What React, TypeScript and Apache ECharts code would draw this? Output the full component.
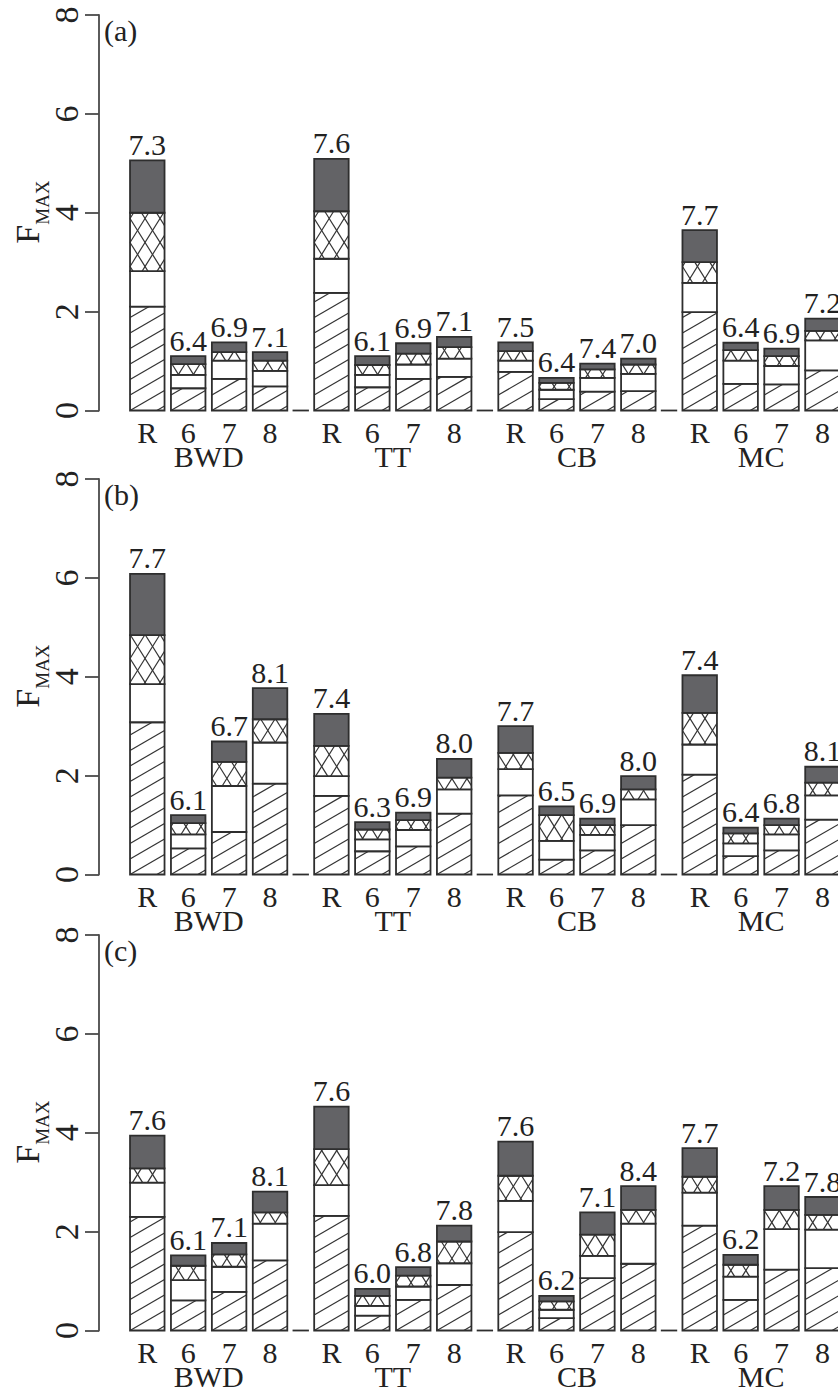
import React, { useEffect, useRef } from "react";
import * as echarts from "echarts";

// Sites and treatments (R = reference, 6/7/8 = target pH)
const GROUPS = ["BWD", "TT", "CB", "MC"];
const TREATMENTS = ["R", "6", "7", "8"];
const PANEL_TAGS = ["(a)", "(b)", "(c)"];

// F_MAX components per bar, ordered BWD R,6,7,8 | TT R,6,7,8 | CB R,6,7,8 | MC R,6,7,8
// stacked bottom to top: hatched, open, cross-hatched, solid
const A_HATCHED = [2.10, 0.45, 0.64, 0.49, 2.38, 0.47, 0.64, 0.68, 0.78, 0.23, 0.38, 0.39, 1.99, 0.54, 0.53, 0.81];
const A_OPEN = [0.72, 0.27, 0.37, 0.31, 0.69, 0.25, 0.29, 0.37, 0.23, 0.19, 0.28, 0.35, 0.59, 0.47, 0.37, 0.61];
const A_CROSSED = [1.18, 0.22, 0.17, 0.21, 0.96, 0.20, 0.22, 0.23, 0.19, 0.14, 0.17, 0.19, 0.42, 0.21, 0.20, 0.19];
const A_SOLID = [1.06, 0.16, 0.20, 0.17, 1.06, 0.18, 0.21, 0.21, 0.18, 0.10, 0.12, 0.12, 0.65, 0.15, 0.15, 0.25];
const A_PH = ["7.3", "6.4", "6.9", "7.1", "7.6", "6.1", "6.9", "7.1", "7.5", "6.4", "7.4", "7.0", "7.7", "6.4", "6.9", "7.2"];

const B_HATCHED = [3.08, 0.53, 0.86, 1.84, 1.59, 0.47, 0.57, 1.23, 1.60, 0.30, 0.49, 1.00, 2.02, 0.37, 0.49, 1.11];
const B_OPEN = [0.77, 0.28, 0.93, 0.83, 0.40, 0.24, 0.33, 0.49, 0.53, 0.38, 0.31, 0.52, 0.61, 0.26, 0.32, 0.49];
const B_CROSSED = [0.99, 0.23, 0.49, 0.47, 0.61, 0.20, 0.20, 0.24, 0.33, 0.52, 0.20, 0.20, 0.64, 0.20, 0.19, 0.26];
const B_SOLID = [1.24, 0.16, 0.41, 0.63, 0.65, 0.15, 0.15, 0.38, 0.54, 0.18, 0.13, 0.27, 0.76, 0.12, 0.13, 0.32];
const B_PH = ["7.7", "6.1", "6.7", "8.1", "7.4", "6.3", "6.9", "8.0", "7.7", "6.5", "6.9", "8.0", "7.4", "6.4", "6.8", "8.1"];

const C_HATCHED = [2.30, 0.61, 0.78, 1.42, 2.32, 0.30, 0.62, 0.92, 1.99, 0.25, 1.06, 1.35, 2.12, 0.62, 1.23, 1.26];
const C_OPEN = [0.69, 0.41, 0.51, 0.74, 0.62, 0.20, 0.27, 0.44, 0.63, 0.17, 0.45, 0.81, 0.67, 0.47, 0.82, 0.78];
const C_CROSSED = [0.29, 0.29, 0.25, 0.23, 0.73, 0.20, 0.22, 0.44, 0.51, 0.17, 0.43, 0.28, 0.32, 0.24, 0.39, 0.30];
const C_SOLID = [0.66, 0.21, 0.23, 0.42, 0.86, 0.14, 0.17, 0.32, 0.69, 0.11, 0.45, 0.48, 0.58, 0.20, 0.48, 0.36];
const C_PH = ["7.6", "6.1", "7.1", "8.1", "7.6", "6.0", "6.8", "7.8", "7.6", "6.2", "7.1", "8.4", "7.7", "6.2", "7.2", "7.8"];

const Y_MIN = 0;
const Y_MAX = 8;
const Y_STEP = 2;

const PANELS = [
  { tag: PANEL_TAGS[0], hatched: A_HATCHED, open: A_OPEN, crossed: A_CROSSED, solid: A_SOLID, ph: A_PH },
  { tag: PANEL_TAGS[1], hatched: B_HATCHED, open: B_OPEN, crossed: B_CROSSED, solid: B_SOLID, ph: B_PH },
  { tag: PANEL_TAGS[2], hatched: C_HATCHED, open: C_OPEN, crossed: C_CROSSED, solid: C_SOLID, ph: C_PH },
];

// ---- layout ----
const FONT = '"Liberation Serif", "Times New Roman", serif';
const INK = "#222";
const EDGE = "#2e2e2e";
const SOLID_FILL = "#636366";
const LINE_FILL = "#333";
const CHART_W = 900;
const CHART_H = 1392;
const GRID_LEFT = 99;
const GRID_TOPS = [15, 479, 935];
const GRID_H = 395.5;
const PX_PER_SLOT = 40.92;
const X_MIN = -1.18;
const X_MAX = 17.5;
const GRID_W = (X_MAX - X_MIN) * PX_PER_SLOT;
const GROUP_STRIDE = 4.5; // four bars plus a half-slot gap
const BAR_W = 0.843;
const SEP_W = 0.4;

const barPos = (i: number) => Math.floor(i / 4) * GROUP_STRIDE + (i % 4);
const BAR_POS = GROUPS.flatMap((_, g) => TREATMENTS.map((__, t) => barPos(g * 4 + t)));
const BAR_NAMES = GROUPS.flatMap(() => TREATMENTS);
const GROUP_CENTERS = GROUPS.map((_, g) => g * GROUP_STRIDE + 1.5);
const SEP_POS = GROUPS.slice(1).map((_, g) => g * GROUP_STRIDE + 3.75);

const findLabel = (v: number, positions: number[], names: string[]) => {
  const k = positions.findIndex((p) => Math.abs(p - v) < 1e-6);
  return k >= 0 ? names[k] : "";
};

// hatch lines clipped to a rectangle; dir 1 = "/", -1 = "\"
function hatch(
  left: number, right: number, yT: number, yB: number, y0: number,
  slope: number, spacing: number, dir: number, phase: number
) {
  const out: any[] = [];
  const w = right - left;
  if (yB - yT < 0.8) return out;
  const style = { stroke: LINE_FILL, lineWidth: 1.2 };
  const kLo = Math.floor((y0 - yB) / spacing) - 1;
  const kHi = Math.ceil((y0 - yT + slope * w) / spacing) + 1;
  for (let k = kLo; k <= kHi; k++) {
    const C = y0 + phase - k * spacing;
    let u0: number;
    let u1: number;
    if (dir > 0) {
      // y = C - slope*u
      u0 = Math.max(0, (C - yB) / slope);
      u1 = Math.min(w, (C - yT) / slope);
    } else {
      // y = C + slope*u
      u0 = Math.max(0, (yT - C) / slope);
      u1 = Math.min(w, (yB - C) / slope);
    }
    if (u1 - u0 > 0.5) {
      const ya = dir > 0 ? C - slope * u0 : C + slope * u0;
      const yb = dir > 0 ? C - slope * u1 : C + slope * u1;
      out.push({ type: "line", shape: { x1: left + u0, y1: ya, x2: left + u1, y2: yb }, style });
    }
  }
  return out;
}

const HATCH_SLOPE = Math.tan((30 * Math.PI) / 180);
const HATCH_SPACING = 15.5;
const CROSS_SLOPE = Math.tan((58 * Math.PI) / 180);
const CROSS_SPACING = 15 * CROSS_SLOPE;

function makeBarRenderer(ph: string[]) {
  return (params: any, api: any) => {
    const i = params.dataIndex;
    const pos = api.value(0);
    const segs = [api.value(1), api.value(2), api.value(3), api.value(4)];
    const left = api.coord([pos - BAR_W / 2, 0])[0];
    const right = api.coord([pos + BAR_W / 2, 0])[0];
    const y0 = api.coord([pos, 0])[1];
    const children: any[] = [];
    let acc = 0;
    segs.forEach((v: number, s: number) => {
      const yB = api.coord([pos, acc])[1];
      acc += v;
      const yT = api.coord([pos, acc])[1];
      const shape = { x: left, y: yT, width: right - left, height: yB - yT };
      children.push({ type: "rect", shape, style: { fill: s === 3 ? SOLID_FILL : "#fff" } });
      if (s === 0) children.push(...hatch(left, right, yT, yB, y0, HATCH_SLOPE, HATCH_SPACING, 1, 0));
      if (s === 2) {
        children.push(...hatch(left, right, yT, yB, y0, CROSS_SLOPE, CROSS_SPACING, 1, 0));
        children.push(...hatch(left, right, yT, yB, y0, CROSS_SLOPE, CROSS_SPACING, -1, 0));
      }
      children.push({ type: "rect", shape, style: { fill: "none", stroke: EDGE, lineWidth: 1.8 } });
    });
    const yTop = api.coord([pos, acc])[1];
    children.push({
      type: "text",
      x: (left + right) / 2,
      y: yTop - 1,
      style: { text: ph[i], font: `30px ${FONT}`, fill: INK, align: "center", verticalAlign: "bottom" },
    });
    return { type: "group", children };
  };
}

const renderSeparator = (_params: any, api: any) => {
  const pos = api.value(0);
  const a = api.coord([pos - SEP_W / 2, 0]);
  const b = api.coord([pos + SEP_W / 2, 0]);
  return { type: "line", shape: { x1: a[0], y1: a[1], x2: b[0], y2: b[1] }, style: { stroke: EDGE, lineWidth: 1.8 } };
};

function buildOption() {
  const grid: any[] = [];
  const xAxis: any[] = [];
  const yAxis: any[] = [];
  const series: any[] = [];
  const graphic: any[] = [];

  PANELS.forEach((p, k) => {
    grid.push({
      left: GRID_LEFT, top: GRID_TOPS[k], width: GRID_W, height: GRID_H,
      containLabel: false, outerBoundsMode: "none",
    });
    const xBase = {
      gridIndex: k, type: "value", position: "bottom", min: X_MIN, max: X_MAX,
      splitLine: { show: false }, axisLine: { show: false, onZero: false }, axisTick: { show: false },
    };
    xAxis.push({
      ...xBase,
      axisLabel: {
        customValues: BAR_POS, margin: 11, fontSize: 30, lineHeight: 22, fontFamily: FONT, color: INK,
        formatter: (v: number) => findLabel(v, BAR_POS, BAR_NAMES),
      },
    });
    xAxis.push({
      ...xBase,
      axisLabel: {
        customValues: GROUP_CENTERS, margin: 35, fontSize: 30, lineHeight: 22, fontFamily: FONT, color: INK,
        formatter: (v: number) => findLabel(v, GROUP_CENTERS, GROUPS),
      },
    });
    yAxis.push({
      gridIndex: k, type: "value", position: "left", min: Y_MIN, max: Y_MAX, interval: Y_STEP,
      splitLine: { show: false },
      axisLine: { show: true, onZero: false, lineStyle: { color: "#4a4a4a", width: 1.8 } },
      axisTick: { show: true, length: 14, lineStyle: { color: "#4a4a4a", width: 1.8 } },
      axisLabel: { rotate: 90, margin: 16, fontSize: 34, fontFamily: FONT, color: INK },
    });
    series.push({
      type: "custom", xAxisIndex: k * 2, yAxisIndex: k, clip: false,
      renderItem: makeBarRenderer(p.ph),
      data: p.hatched.map((h, i) => [BAR_POS[i], h, p.open[i], p.crossed[i], p.solid[i]]),
    });
    series.push({
      type: "custom", xAxisIndex: k * 2, yAxisIndex: k, clip: false,
      renderItem: renderSeparator,
      data: SEP_POS.map((s) => [s, 0]),
    });

    const top = GRID_TOPS[k];
    const mid = top + GRID_H / 2;
    graphic.push({
      type: "text", left: 104, top: top,
      style: { text: p.tag, font: `30px ${FONT}`, fill: INK },
    });
    graphic.push({
      type: "text", x: 44, y: mid + 31, rotation: Math.PI / 2,
      style: { text: "F", font: `34px ${FONT}`, fill: INK, align: "left", verticalAlign: "bottom" },
    });
    graphic.push({
      type: "text", x: 52, y: mid + 12, rotation: Math.PI / 2,
      style: { text: "MAX", font: `19px ${FONT}`, fill: INK, align: "left", verticalAlign: "bottom" },
    });
  });

  return { animation: false, backgroundColor: "#fff", grid, xAxis, yAxis, series, graphic };
}

export default function App() {
  const ref = useRef<HTMLDivElement>(null);
  useEffect(() => {
    if (!ref.current) return;
    const chart = echarts.init(ref.current, undefined, { renderer: "svg" });
    chart.setOption(buildOption());
    return () => chart.dispose();
  }, []);
  return (
    <div style={{ position: "absolute", left: 0, top: 0, width: 838, height: CHART_H, overflow: "hidden", background: "#fff" }}>
      <div ref={ref} style={{ width: CHART_W, height: CHART_H }} />
    </div>
  );
}
